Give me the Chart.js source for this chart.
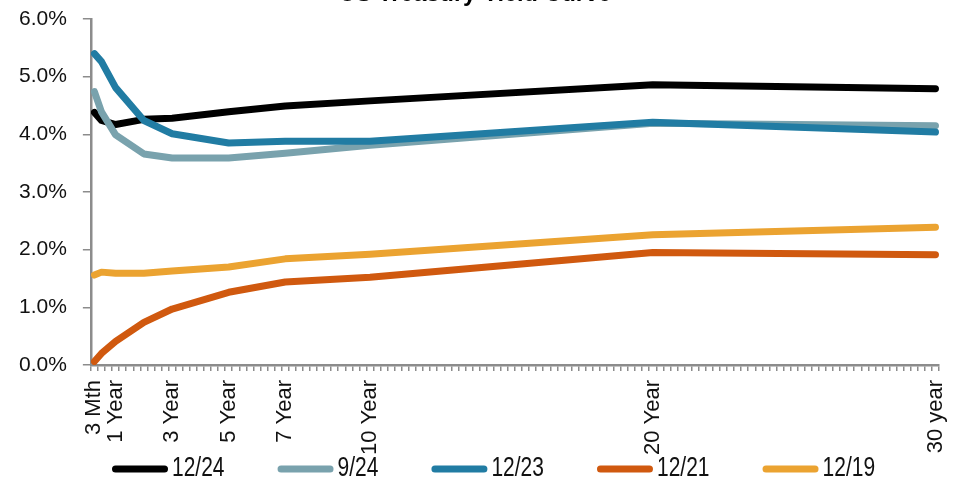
<!DOCTYPE html>
<html>
<head>
<meta charset="utf-8">
<script src="https://cdn.jsdelivr.net/npm/chart.js@4.4.1/dist/chart.umd.min.js"></script>
<style>
  html, body { margin: 0; padding: 0; background: #ffffff; }
  #wrap { width: 971px; height: 484px; position: relative; overflow: hidden; }
</style>
</head>
<body>
<div id="wrap"><canvas id="chart" width="971" height="484"></canvas></div>
<script>
// Maturities in years (3 months .. 30 years)
const maturities = [0.25, 0.5, 1, 2, 3, 5, 7, 10, 20, 30];

// Yield curves (%), one per snapshot date
const seriesNames = ['12/24', '9/24', '12/23', '12/21', '12/19'];
const yields1224 = [4.38, 4.24, 4.17, 4.26, 4.28, 4.39, 4.49, 4.58, 4.86, 4.79];
const yields0924 = [4.74, 4.39, 3.99, 3.66, 3.59, 3.59, 3.67, 3.81, 4.19, 4.15];
const yields1223 = [5.40, 5.26, 4.81, 4.24, 4.01, 3.85, 3.88, 3.88, 4.21, 4.04];
const yields1221 = [0.06, 0.20, 0.41, 0.74, 0.97, 1.26, 1.44, 1.52, 1.95, 1.91];
const yields1219 = [1.56, 1.61, 1.59, 1.59, 1.63, 1.70, 1.84, 1.92, 2.26, 2.39];
const seriesValues = [yields1224, yields0924, yields1223, yields1221, yields1219];
const seriesColors = ['#000000', '#79A2AD', '#217CA3', '#D0590F', '#EBA331'];

// Labelled maturities on the horizontal axis
const tickValues = [0.25, 1, 3, 5, 7, 10, 20, 30];
const tickLabels = ['3 Mth', '1 Year', '3 Year', '5 Year', '7 Year', '10 Year', '20 Year', '30 year'];

const titleText = 'US Treasury Yield Curve';

const FONT = '"Liberation Sans", Arial, sans-serif';
const AXIS_GREY = '#8C8C8C';

const datasets = seriesValues.map((vals, i) => ({
  label: seriesNames[i],
  data: maturities.map((m, k) => ({ x: m, y: vals[k] })),
  borderColor: seriesColors[i],
  backgroundColor: seriesColors[i],
  borderWidth: 7,
  borderCapStyle: 'round',
  borderJoinStyle: 'round',
  pointRadius: 0,
  pointHoverRadius: 0,
  tension: 0,
  fill: false,
  // later series are painted over earlier ones
  order: seriesValues.length - i
}));

// Title sits at the very top edge of the canvas
const titlePlugin = {
  id: 'topTitle',
  afterDraw(chart) {
    const ctx = chart.ctx;
    ctx.save();
    ctx.font = 'bold 23.5px ' + FONT;
    ctx.fillStyle = '#000000';
    ctx.textAlign = 'center';
    ctx.textBaseline = 'alphabetic';
    ctx.fillText(titleText, 475, 1);
    ctx.restore();
  }
};

// Horizontal legend with line swatches below the axis labels
const lineLegend = {
  id: 'lineLegend',
  afterDraw(chart) {
    const ctx = chart.ctx;
    const y = 468;
    const swatch = 49;      // stroke length, round caps add 3.5px each side
    const cap = 3.5;
    const textGap = 4;
    const itemGap = 53;
    const stretch = 1.3;    // tall, condensed-looking legend text
    ctx.save();
    ctx.font = '21px ' + FONT;
    ctx.textBaseline = 'middle';
    ctx.textAlign = 'left';
    let x = 112;
    chart.data.datasets.forEach(ds => {
      ctx.strokeStyle = ds.borderColor;
      ctx.lineWidth = 7;
      ctx.lineCap = 'round';
      ctx.beginPath();
      ctx.moveTo(x + cap, y + 1);
      ctx.lineTo(x + cap + swatch, y + 1);
      ctx.stroke();
      const tx = x + cap * 2 + swatch + textGap;
      ctx.fillStyle = '#111111';
      ctx.save();
      ctx.translate(tx, y);
      ctx.scale(1, stretch);
      ctx.fillText(ds.label, 0, 0);
      ctx.restore();
      x = tx + ctx.measureText(ds.label).width + itemGap;
    });
    ctx.restore();
  }
};

new Chart(document.getElementById('chart'), {
  type: 'line',
  data: { datasets },
  options: {
    responsive: false,
    animation: false,
    devicePixelRatio: 1,
    layout: { padding: { left: 3, right: 26, top: 19, bottom: 20 } },
    plugins: {
      legend: { display: false },
      title: { display: false },
      tooltip: { enabled: false }
    },
    scales: {
      x: {
        type: 'linear',
        min: 0.125,
        max: 30.125,
        bounds: 'data',
        afterBuildTicks(scale) {
          // one slot per quarter, tick marks fall between slots
          const t = [];
          for (let q = 1; q <= 120; q++) t.push({ value: q / 4 });
          scale.ticks = t;
        },
        grid: {
          offset: true,
          drawOnChartArea: false,
          drawTicks: true,
          tickLength: 6,
          color: AXIS_GREY,
          lineWidth: 1.5
        },
        border: { display: true, color: AXIS_GREY, width: 2.5 },
        ticks: {
          autoSkip: false,
          maxRotation: 90,
          minRotation: 90,
          padding: 9,
          color: '#111111',
          font: { family: FONT, size: 22 },
          callback(value) {
            const idx = tickValues.indexOf(value);
            return idx >= 0 ? tickLabels[idx] : '';
          }
        }
      },
      y: {
        type: 'linear',
        min: 0,
        max: 6,
        afterFit(scale) {
          // the top label may sit right at the canvas edge
          scale.paddingTop = 0;
          scale.paddingBottom = 0;
        },
        grid: {
          drawOnChartArea: false,
          drawTicks: true,
          tickLength: 8,
          color: AXIS_GREY,
          lineWidth: 1.5
        },
        border: { display: true, color: AXIS_GREY, width: 2.5 },
        ticks: {
          stepSize: 1,
          padding: 16,
          color: '#111111',
          font: { family: FONT, size: 21 },
          callback(value) { return value.toFixed(1) + '%'; }
        }
      }
    }
  },
  plugins: [titlePlugin, lineLegend]
});
</script>
</body>
</html>
